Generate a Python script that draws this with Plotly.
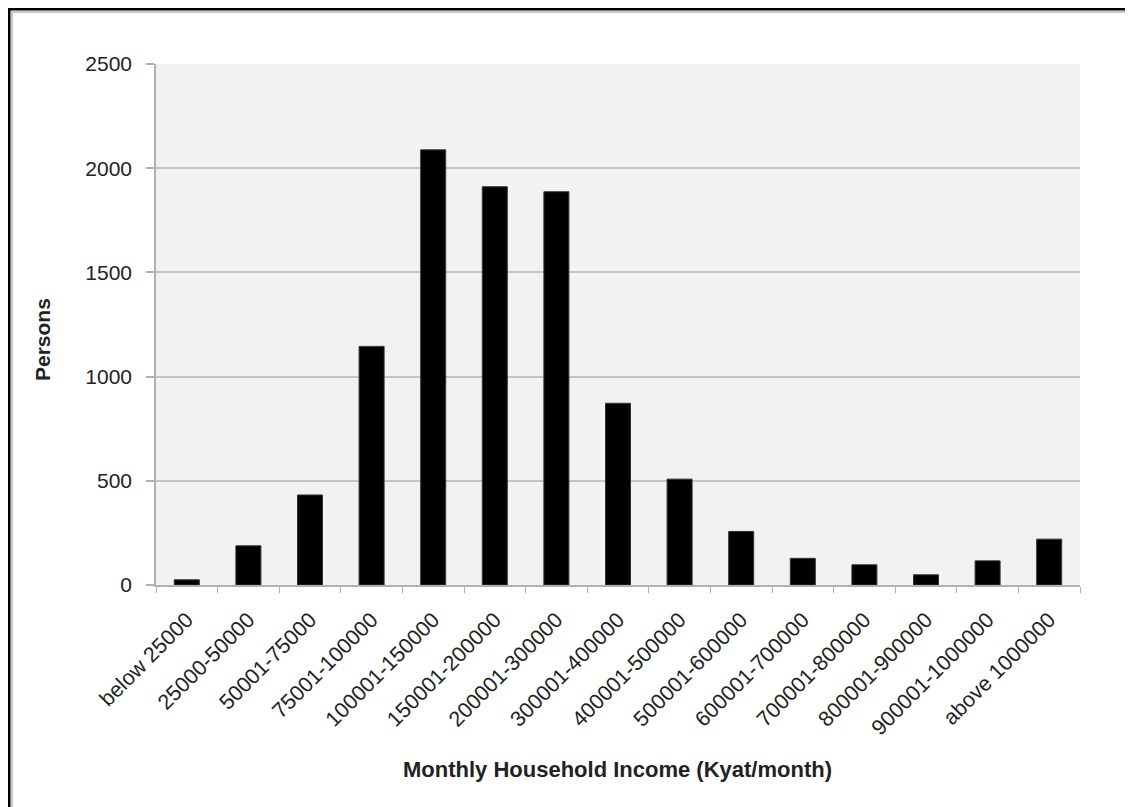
import plotly.graph_objects as go

categories = ["below 25000", "25000-50000", "50001-75000", "75001-100000", "100001-150000",
              "150001-200000", "200001-300000", "300001-400000", "400001-500000",
              "500001-600000", "600001-700000", "700001-800000", "800001-900000",
              "900001-1000000", "above 1000000"]
persons = [25, 188, 432, 1145, 2088, 1911, 1887, 872, 508, 257, 128, 97, 49, 116, 220]
y_ticks = [0, 500, 1000, 1500, 2000, 2500]

# page has an 8px body margin; figure coords = page coords - 8
OFF = 8
W, H = 1133 - OFF, 807 - OFF
L, T = 156 - OFF, 64 - OFF
RIGHT, BOTTOM = 1080 - OFF, 585 - OFF
R, B = W - RIGHT, H - BOTTOM
PW, PH = RIGHT - L, BOTTOM - T


def px(x):
    return (x - OFF - L) / PW


def py(y):
    return (BOTTOM - (y - OFF)) / PH


FONT = "Liberation Sans, Arial, sans-serif"

fig = go.Figure(go.Bar(
    x=categories, y=persons,
    marker=dict(color="black", line=dict(color="#333333", width=1)),
))

fig.update_layout(
    width=W, height=H,
    margin=dict(l=L, r=R, t=T, b=B),
    paper_bgcolor="white",
    plot_bgcolor="#f2f2f2",
    bargap=0.594,
    showlegend=False,
    font=dict(family=FONT, size=21, color="#222222"),
)

fig.update_xaxes(
    type="category",
    tickangle=-45,
    tickson="boundaries",
    ticks="outside", ticklen=6, tickcolor="#b0b0b0", tickwidth=1,
    showline=True, linecolor="#b0b0b0", linewidth=1.5,
    showgrid=False,
    ticklabelstandoff=12,
    tickfont=dict(family=FONT, size=21.5, color="#222222"),
)
fig.update_yaxes(
    range=[0, 2500],
    tickvals=y_ticks,
    ticks="outside", ticklen=8, tickcolor="#b0b0b0", tickwidth=1.5,
    showline=True, linecolor="#b0b0b0", linewidth=1.5,
    showgrid=True, gridcolor="#c4c4c4", gridwidth=1.5,
    zeroline=False,
    ticklabelstandoff=10,
    tickfont=dict(family=FONT, size=21, color="#222222"),
)

annotations = [
    dict(text="<b>Monthly Household Income (Kyat/month)</b>", xref="paper", yref="paper",
         x=px(617), y=py(770), showarrow=False, xanchor="center", yanchor="middle",
         font=dict(family=FONT, size=22, color="#222222")),
    dict(text="<b>Persons</b>", xref="paper", yref="paper",
         x=px(42), y=py(340), showarrow=False, xanchor="center", yanchor="middle",
         textangle=-90, font=dict(family=FONT, size=21, color="#222222")),
]
fig.update_layout(annotations=annotations)

shapes = [
    # outer frame: black left and top, gray inner lines
    dict(type="line", xref="paper", yref="paper", x0=px(9), x1=px(9), y0=py(8), y1=py(807),
         line=dict(color="black", width=3)),
    dict(type="line", xref="paper", yref="paper", x0=px(8), x1=px(1133), y0=py(9), y1=py(9),
         line=dict(color="black", width=3)),
    dict(type="line", xref="paper", yref="paper", x0=px(12), x1=px(12), y0=py(11), y1=py(807),
         line=dict(color="#c8c8c8", width=2)),
    dict(type="line", xref="paper", yref="paper", x0=px(11), x1=px(1129), y0=py(12), y1=py(12),
         line=dict(color="#c8c8c8", width=2)),
    dict(type="line", xref="paper", yref="paper", x0=px(1130), x1=px(1130), y0=py(12), y1=py(807),
         line=dict(color="#ececec", width=2)),
]
fig.update_layout(shapes=shapes)

fig.write_html("out.html")
